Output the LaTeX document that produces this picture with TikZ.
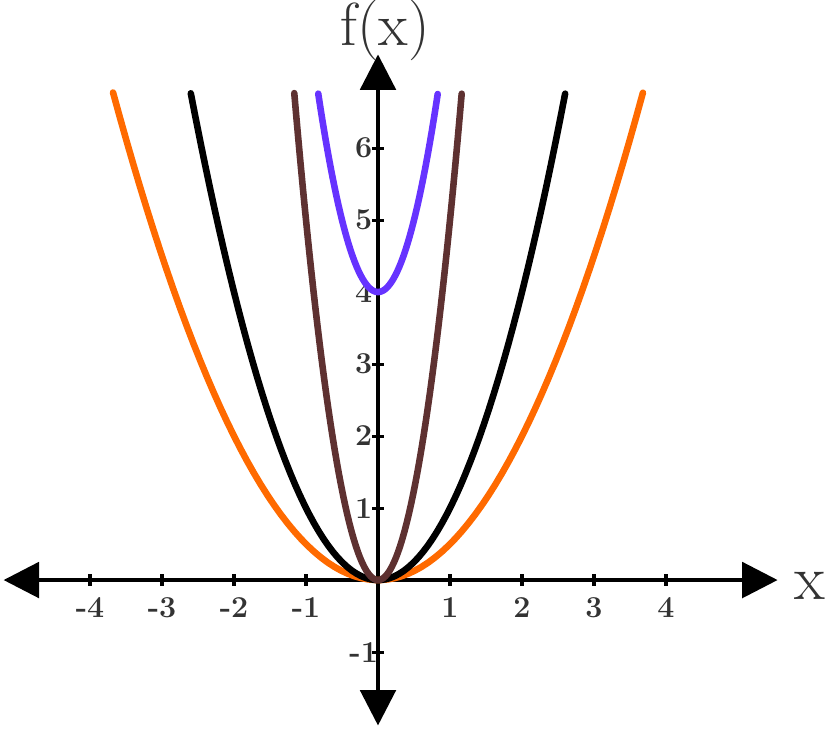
\documentclass[tikz,border=0pt]{standalone}
\usetikzlibrary{arrows.meta}
\definecolor{orng}{HTML}{FF6A00}
\definecolor{brwn}{HTML}{5E3131}
\definecolor{purp}{HTML}{6633FF}
\definecolor{lbl}{HTML}{333333}
\begin{document}
\begin{tikzpicture}[x=1cm,y=1cm,
  axis/.style={line width=1.6pt,{Triangle[length=14pt,width=14pt]}-{Triangle[length=14pt,width=14pt]}},
  curve/.style={line width=2.6pt,line cap=round},
  tick/.style={font=\bfseries\large,text=lbl}]
\useasboundingbox (-5.25,-2.056) rectangle (6.25,8.056);
\draw[axis] (-5.2,0) coordinate (xl) -- (5.55,0) coordinate (xr);
\draw[axis] (0,-2.02) coordinate (yb) -- (0,7.3) coordinate (yt);
\foreach \i in {-4,-3,-2,-1,1,2,3,4} {
  \draw[line width=1.2pt] (\i,-0.08) -- (\i,0.08);
  \node[tick] (tx\i) at (\i,-0.38) {\i};
}
\foreach \j in {-1,1,2,3,4,5,6} {
  \draw[line width=1.2pt] (-0.08,\j) -- (0.08,\j);
  \node[tick] (ty\j) at (-0.2,\j) {\j};
}
\node[font=\fontsize{24}{24}\selectfont,text=lbl] (fx) at (0.1,7.64) {f(x)};
\node[font=\fontsize{25}{25}\selectfont,text=lbl] (xx) at (6.0,-0.08) {x};
\draw[curve,orng] plot[domain=-3.68:3.68,samples=80] (\x,{0.5*\x*\x});
\draw[curve,black] plot[domain=-2.6:2.6,samples=80] (\x,{\x*\x});
\draw[curve,brwn] plot[domain=-1.163:1.163,samples=80] (\x,{5*\x*\x});
\draw[curve,purp] plot[domain=-0.83:0.83,samples=60] (\x,{4*\x*\x+4});
\end{tikzpicture}
\end{document}
